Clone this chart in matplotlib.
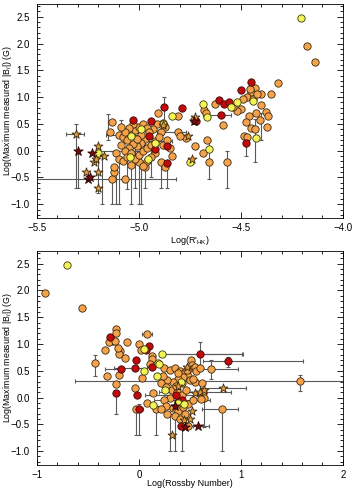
import matplotlib
matplotlib.use('Agg')
import matplotlib.pyplot as plt
from matplotlib.ticker import MultipleLocator
import numpy as np

plt.rcParams['font.family'] = ['Liberation Sans', 'DejaVu Sans']
plt.rcParams['mathtext.fontset'] = 'custom'
plt.rcParams['mathtext.rm'] = 'Liberation Sans'
plt.rcParams['mathtext.it'] = 'Liberation Sans:italic'

ORANGE = '#F6A24A'
RED = '#C20A0A'
YELLOW = '#F4F455'
STAR = '#E39A3C'
DARKSTAR = '#7A0A0A'
ERRC = '#5a5a5a'

# ---------------- top panel: Log(R'HK) ----------------
top_orange_x = [-4.175, -4.135, -4.316, -4.354, -4.40, -4.43, -4.45, -4.456, -4.47, -4.49,
                -4.50, -4.44, -4.42, -4.403, -4.426, -4.377, -4.367, -4.406, -4.46, -4.477,
                -4.448, -4.43, -4.37, -4.487, -4.47, -4.52, -4.54, -4.628, -4.68, -4.67,
                -4.587, -4.664, -4.685, -4.657, -4.569, -4.726, -4.77, -4.81, -4.80, -4.81,
                -4.73, -4.907, -4.88, -4.87, -4.89, -4.91, -4.93, -4.89, -4.87, -5.13,
                -5.14, -5.13, -5.07, -5.12, -5.12, -5.04, -4.97, -5.00, -5.10, -5.08,
                -5.06, -5.04, -5.02, -5.00, -4.98, -4.96, -4.95, -4.97, -4.99, -5.01,
                -5.03, -5.05, -5.07, -5.09, -5.11, -5.10, -5.08, -5.06, -5.04, -5.02,
                -5.00, -4.98, -4.96, -4.94, -4.92, -4.90, -4.92, -4.94, -4.96, -4.98,
                -5.03, -5.05, -5.07, -5.09, -4.88, -4.86, -4.85, -4.84, -4.99, -5.01]
top_orange_y = [1.95, 1.66, 1.27, 1.05, 1.05, 1.17, 1.10, 1.16, 1.00, 0.97,
                0.78, 0.97, 1.05, 0.85, 0.71, 0.73, 0.64, 0.57, 0.65, 0.54,
                0.42, 0.40, 0.44, 0.28, 0.26, 0.74, 0.82, 0.88, 0.76, 0.70,
                0.48, 0.20, -0.05, -0.22, -0.22, 0.08, 0.23, 0.34, 0.28, 0.64,
                0.57, 0.70, 0.52, 0.45, 0.35, 0.50, 0.40, -0.22, -0.30, 0.54,
                0.34, -0.53, -0.53, -0.39, -0.30, -0.27, -0.30, -0.22, 0.30, 0.25,
                0.20, 0.30, 0.38, 0.45, 0.50, 0.42, 0.35, 0.22, 0.15, 0.08,
                0.12, 0.05, 0.00, 0.10, -0.05, -0.15, -0.20, -0.12, -0.05, -0.15,
                -0.08, 0.00, 0.05, 0.10, 0.18, 0.25, -0.05, -0.12, -0.20, -0.28,
                0.50, 0.42, 0.35, 0.45, 0.10, 0.20, 0.05, -0.10, 0.30, 0.22]
top_red_x = [-4.448, -4.498, -4.608, -4.585, -4.56, -4.598, -4.79, -4.879, -4.94, -5.03,
             -4.95, -4.86, -4.86, -4.92, -4.477, -4.72]
top_red_y = [1.28, 1.13, 0.95, 0.87, 0.91, 0.67, 0.80, 0.82, 0.56, 0.58,
             0.28, 0.08, -0.23, 0.04, 0.14, 0.55]
top_yellow_x = [-4.207, -4.52, -4.55, -4.687, -4.666, -4.657, -4.75, -4.84, -4.428, -4.44,
                -5.20, -4.955, -5.046, -5.04, -4.99, -4.88, -4.92]
top_yellow_y = [2.47, 0.91, 0.82, 0.88, 0.62, 0.04, -0.22, 0.64, 0.23, 0.93,
                -0.05, -0.16, -0.11, 0.28, 0.40, 0.50, 0.15]
top_star_x = [-5.31, -5.20, -5.22, -5.17, -5.20, -5.26, -5.20, -4.726, -4.76, -4.88, -5.21, -4.74]
top_star_y = [0.32, 0.08, -0.22, -0.10, -0.40, -0.40, -0.70, 0.62, 0.27, 0.48, -0.15, -0.15]
top_dstar_x = [-5.30, -5.23, -5.25, -5.24, -4.73]
top_dstar_y = [0.00, -0.05, -0.53, -0.50, 0.55]

# error bars: x, y, x minus, x plus, y minus, y plus
top_err_x = [-5.31, -5.30, -5.25, -5.20, -5.18, -5.13, -5.11, -5.08, -5.04, -5.02, -4.99,
             -4.89, -4.86, -4.879, -4.657, -4.569, -4.477, -4.43, -4.40, -4.598, -4.81,
             -5.07, -5.15, -5.13, -5.10, -5.06, -5.00, -4.97, -4.94, -4.92, -5.09]
top_err_y = [0.32, 0.00, -0.53, -0.05, -0.10, -0.53, -0.30, 0.30, -0.27, 0.10, -0.30,
             -0.22, -0.23, 0.82, -0.22, -0.22, 0.14, 0.40, 0.57, 0.67, 0.34,
             0.30, 0.54, 0.00, -0.15, -0.12, -0.08, -0.20, 0.10, 0.18, 0.45]
top_err_xm = [0.05, 0.0, 0.26, 0.0, 0.0, 0.0, 0.0, 0.08, 0.0, 0.03, 0.0,
              0.0, 0.0, 0.0, 0.0, 0.0, 0.0, 0.0, 0.0, 0.09, 0.10,
              0.0, 0.0, 0.06, 0.0, 0.0, 0.0, 0.0, 0.0, 0.05, 0.0]
top_err_xp = [0.04, 0.0, 0.43, 0.0, 0.0, 0.0, 0.0, 0.08, 0.0, 0.05, 0.0,
              0.0, 0.0, 0.0, 0.0, 0.0, 0.0, 0.0, 0.0, 0.05, 0.04,
              0.0, 0.0, 0.15, 0.0, 0.0, 0.0, 0.0, 0.0, 0.08, 0.0]
top_err_ym = [1.01, 0.70, 0.0, 0.75, 0.90, 0.47, 0.70, 0.0, 0.73, 0.80, 0.70,
              0.48, 0.47, 0.32, 0.30, 0.48, 0.24, 0.62, 0.37, 0.0, 0.0,
              0.0, 0.35, 0.0, 0.85, 0.60, 0.92, 0.50, 0.60, 0.0, 0.20]
top_err_yp = [0.18, 0.0, 0.0, 0.0, 0.0, 0.0, 0.0, 0.0, 0.0, 0.0, 0.0,
              0.0, 0.0, 0.18, 0.40, 0.22, 0.16, 0.20, 0.13, 0.0, 0.0,
              0.0, 0.15, 0.0, 0.0, 0.0, 0.0, 0.0, 0.0, 0.0, 0.12]

# ---------------- bottom panel: Log(Rossby Number) ----------------
bot_orange_x = [-0.918, -0.554, 1.577, 0.816, 0.71, 0.51, 0.485, -0.226, -0.22, -0.25,
                -0.29, -0.23, -0.115, -0.334, -0.19, -0.20, -0.21, -0.134, -0.43, -0.31,
                -0.197, -0.226, -0.043, -0.03, -0.003, 0.082, 0.016, 0.13, 0.13, 0.026,
                0.14, 0.08, 0.17, 0.11, 0.25, 0.30, 0.35, 0.40, 0.45, 0.50,
                0.52, 0.55, 0.48, 0.43, 0.38, 0.33, 0.28, 0.24, 0.22, 0.27,
                0.32, 0.37, 0.42, 0.46, 0.50, 0.55, 0.62, 0.63, 0.64, 0.61,
                0.30, 0.25, 0.27, 0.33, 0.38, 0.43, 0.48, 0.53, 0.35, 0.40,
                0.45, 0.28, 0.22, 0.38, 0.42, 0.36, 0.47, 0.56, 0.60, 0.53]
bot_orange_y = [1.96, 1.67, 0.31, -0.22, 0.53, 0.70, -0.53, 1.28, 1.20, 1.05,
                1.04, 1.06, 1.04, 0.89, 0.87, 0.82, 0.92, 0.74, 0.65, 0.40,
                0.43, 0.26, 0.18, -0.22, 1.00, 1.18, 0.89, 0.78, 0.72, 0.37,
                0.08, -0.10, -0.22, 0.62, 0.55, 0.52, 0.55, 0.50, 0.48, 0.55,
                0.60, 0.58, 0.40, 0.38, 0.35, 0.30, 0.32, 0.40, 0.28, 0.20,
                0.15, 0.10, 0.05, 0.15, 0.32, 0.30, 0.28, 0.10, 0.00, -0.02,
                0.00, -0.05, -0.15, -0.20, -0.25, -0.18, -0.12, -0.05, -0.35, -0.40,
                -0.30, -0.30, -0.22, 0.45, 0.28, 0.22, 0.52, 0.50, 0.55, 0.35]
bot_red_x = [0.869, 0.597, 0.41, -0.279, -0.174, -0.22, -0.033, -0.04, -0.016, 0.0,
             0.095, 0.07, 0.125, 0.38, 0.42, 0.36]
bot_red_y = [0.68, 0.82, -0.53, 1.13, 0.54, 0.08, 0.71, 0.55, 0.04, -0.22,
             0.96, 0.88, 0.57, -0.08, -0.05, 0.05]
bot_yellow_x = [-0.705, 0.23, 0.187, 0.18, 0.256, 0.41, 0.38, 0.05, 0.05, 0.14, 0.20, 0.44]
bot_yellow_y = [2.47, 0.82, 0.64, 0.40, 0.15, 0.30, -0.10, 0.90, 0.50, -0.14, 0.62, -0.12]
bot_star_x = [0.82, 0.32, 0.55, 0.60, 0.44, 0.50, 0.47, 0.38, 0.52, 0.64]
bot_star_y = [0.17, -0.70, 0.08, 0.10, -0.42, -0.40, 0.58, 0.22, -0.25, 0.15]
bot_dstar_x = [0.58, 0.45, 0.35]
bot_dstar_y = [-0.53, -0.55, -0.15]

bot_err_x = [1.577, 0.869, 0.597, 0.816, 0.82, 0.71, 0.485, 0.23, -0.43, -0.22,
             0.0, -0.03, 0.17, 0.30, 0.35, 0.42, 0.64, 0.082, -0.174, -0.04,
             0.58, 0.26, 0.50, 0.40]
bot_err_y = [0.31, 0.68, 0.82, -0.22, 0.17, 0.53, -0.53, 0.82, 0.65, 0.08,
             -0.22, -0.22, -0.22, -0.30, -0.35, -0.40, 0.00, 1.18, 0.54, 0.55,
             -0.53, 0.05, 0.10, -0.05]
bot_err_xm = [2.2, 0.24, 0.40, 0.20, 0.22, 0.40, 0.10, 0.0, 0.0, 0.0,
              0.04, 0.0, 0.0, 0.0, 0.0, 0.0, 0.0, 0.05, 0.16, 0.20,
              0.05, 0.20, 0.30, 0.25]
bot_err_xp = [0.6, 0.74, 0.42, 0.16, 0.23, 0.26, 0.20, 0.78, 0.0, 0.0,
              0.04, 0.0, 0.0, 0.0, 0.0, 0.0, 0.0, 0.05, 0.0, 0.12,
              0.05, 0.35, 0.40, 0.30]
bot_err_ym = [0.19, 0.10, 0.22, 0.78, 0.0, 0.18, 0.0, 0.0, 0.25, 0.38,
              0.48, 0.48, 0.48, 0.70, 0.65, 0.60, 0.55, 0.0, 0.0, 0.0,
              0.0, 0.0, 0.0, 0.0]
bot_err_yp = [0.12, 0.07, 0.21, 0.0, 0.0, 0.17, 0.0, 0.0, 0.15, 0.07,
              0.10, 0.0, 0.0, 0.0, 0.0, 0.0, 0.0, 0.0, 0.0, 0.0,
              0.0, 0.0, 0.0, 0.0]


def style_axes(ax, xmajor, xminor):
    ax.set_ylim(-1.26, 2.74)
    ax.xaxis.set_major_locator(MultipleLocator(xmajor))
    ax.xaxis.set_minor_locator(MultipleLocator(xminor))
    ax.yaxis.set_major_locator(MultipleLocator(0.5))
    ax.yaxis.set_minor_locator(MultipleLocator(0.1))
    ax.tick_params(which='both', direction='in', top=True, right=True,
                   labelsize=7, width=0.6)
    ax.tick_params(axis='y', pad=5)
    ax.tick_params(axis='x', pad=3.5)
    ax.tick_params(which='major', length=4)
    ax.tick_params(which='minor', length=2)
    for s in ax.spines.values():
        s.set_linewidth(0.6)
    ax.set_ylabel(r'Log(Maximum measured |B$_l$|) (G)', fontsize=6.3)
    ax.yaxis.set_label_coords(-0.074, 0.5)


def draw_panel(ax, ex, ey, exm, exp, eym, eyp, groups):
    ax.errorbar(ex, ey, xerr=[exm, exp], yerr=[eym, eyp], fmt='none',
                ecolor=ERRC, elinewidth=0.8, capsize=1.5, capthick=0.8, zorder=1)
    for (x, y, c, m, s, ec) in groups:
        ax.scatter(x, y, s=s, c=c, marker=m, edgecolors=ec, linewidths=0.6, zorder=2)


fig = plt.figure(figsize=(3.52, 4.88), dpi=100)
ax1 = fig.add_axes([0.105, 0.553, 0.869, 0.439])
ax2 = fig.add_axes([0.105, 0.047, 0.869, 0.439])

draw_panel(ax1, top_err_x, top_err_y, top_err_xm, top_err_xp, top_err_ym, top_err_yp, [
    (top_orange_x, top_orange_y, ORANGE, 'o', 28, '#3a2a10'),
    (top_red_x, top_red_y, RED, 'o', 28, '#3a0a0a'),
    (top_yellow_x, top_yellow_y, YELLOW, 'o', 28, '#3a3a10'),
    (top_star_x, top_star_y, STAR, '*', 45, '#3a2a10'),
    (top_dstar_x, top_dstar_y, DARKSTAR, '*', 50, '#2a0505'),
])
ax1.set_xlim(-5.5, -4.0)
style_axes(ax1, 0.5, 0.1)
ax1.set_xlabel(r"Log(R$'_{\rm HK}$)", fontsize=6.5, labelpad=1)

draw_panel(ax2, bot_err_x, bot_err_y, bot_err_xm, bot_err_xp, bot_err_ym, bot_err_yp, [
    (bot_orange_x, bot_orange_y, ORANGE, 'o', 28, '#3a2a10'),
    (bot_red_x, bot_red_y, RED, 'o', 28, '#3a0a0a'),
    (bot_yellow_x, bot_yellow_y, YELLOW, 'o', 28, '#3a3a10'),
    (bot_star_x, bot_star_y, STAR, '*', 45, '#3a2a10'),
    (bot_dstar_x, bot_dstar_y, DARKSTAR, '*', 50, '#2a0505'),
])
ax2.set_xlim(-1, 2)
style_axes(ax2, 1, 0.2)
ax2.set_xlabel('Log(Rossby Number)', fontsize=6.5, labelpad=-0.5)

fig.savefig('out.png', dpi=100)
